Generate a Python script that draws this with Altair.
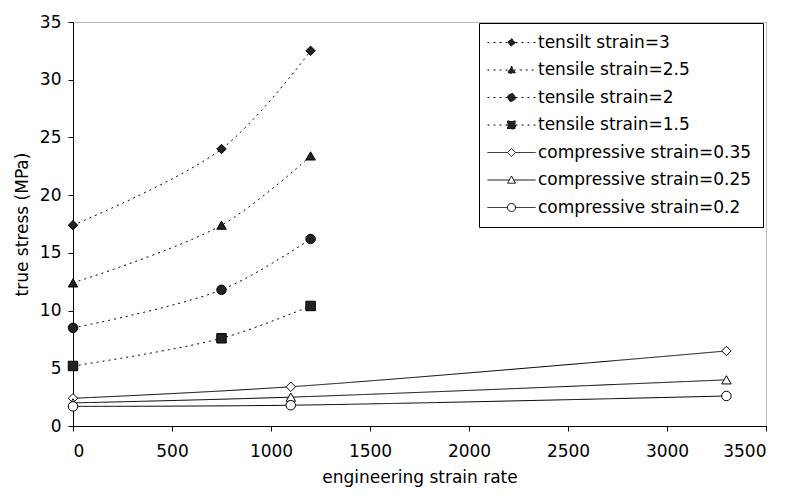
import altair as alt
import pandas as pd

FONT = "DejaVu Sans"

series_names = [
    "tensilt strain=3",
    "tensile strain=2.5",
    "tensile strain=2",
    "tensile strain=1.5",
    "compressive strain=0.35",
    "compressive strain=0.25",
    "compressive strain=0.2",
]
tensile_rate = [0, 750, 1200]
compressive_rate = [0, 1100, 3300]
tensile_3 = [17.4, 24.0, 32.5]
tensile_25 = [12.4, 17.4, 23.4]
tensile_2 = [8.5, 11.8, 16.2]
tensile_15 = [5.2, 7.6, 10.4]
compressive_035 = [2.4, 3.4, 6.5]
compressive_025 = [2.0, 2.5, 4.0]
compressive_02 = [1.7, 1.8, 2.6]

x_ticks = [0, 500, 1000, 1500, 2000, 2500, 3000, 3500]
y_ticks = [0, 5, 10, 15, 20, 25, 30, 35]

series_x = [tensile_rate] * 4 + [compressive_rate] * 3
series_y = [tensile_3, tensile_25, tensile_2, tensile_15,
            compressive_035, compressive_025, compressive_02]

rows = []
for name, xs, ys in zip(series_names, series_x, series_y):
    for xv, yv in zip(xs, ys):
        rows.append({"series": name, "rate": xv, "stress": yv})
df = pd.DataFrame(rows)

plot_shapes = ["diamond", "triangle-up", "circle", "square",
               "diamond", "triangle-up", "circle"]
diamond_l = "M-6,0H-1M1,0H6M0,-1L1,0L0,1L-1,0Z"
triangle_l = "M-6,0H-0.55M0.55,0H6M0,-1L1,0.8L-1,0.8Z"
circle_l = "M-6,0H-1M1,0H6M1,0A1,1 0 1,1 -1,0A1,1 0 1,1 1,0Z"
square_l = "M-6,0H-1M1,0H6M-1,-1H1V1H-1Z"
legend_shapes = [diamond_l, triangle_l, circle_l, square_l,
                 diamond_l, triangle_l, circle_l]
fill_range = ["#222222"] * 4 + ["#ffffff"] * 3
stroke_range = ["#000000"] * 7
dash_range = [[2, 4]] * 4 + [[1, 0]] * 3

x_enc = alt.X("rate:Q", scale=alt.Scale(domain=[0, 3500], nice=False),
              axis=alt.Axis(values=x_ticks, format="d", title="engineering strain rate",
                            labelPadding=12, titlePadding=10))
y_enc = alt.Y("stress:Q", scale=alt.Scale(domain=[0, 35], nice=False),
              axis=alt.Axis(values=y_ticks, format="d", title="true stress (MPa)",
                            labelPadding=7, titlePadding=8))

lines = alt.Chart(df).mark_line(
    interpolate="catmull-rom", color="black", strokeWidth=1
).encode(
    x=x_enc, y=y_enc, detail="series:N",
    strokeDash=alt.StrokeDash("series:N",
                              scale=alt.Scale(domain=series_names, range=dash_range),
                              legend=None),
)

points = alt.Chart(df).mark_point(
    filled=True, stroke="black", strokeWidth=1, size=90, opacity=1, fillOpacity=1
).encode(
    x=x_enc, y=y_enc,
    shape=alt.Shape("series:N", scale=alt.Scale(domain=series_names, range=plot_shapes),
                    legend=None),
    fill=alt.Fill("series:N", scale=alt.Scale(domain=series_names, range=fill_range),
                  legend=None),
)

legend_cfg = alt.Legend(
    title=None, orient="none", legendX=406, legendY=1,
    strokeColor="black", fillColor="white", padding=11,
    labelFont=FONT, labelFontSize=17, labelColor="black", labelLimit=400,
    symbolSize=64, symbolStrokeWidth=1,
    symbolOffset=13, labelOffset=18, rowPadding=9.5,
)

legend_layer = alt.Chart(df).transform_filter(
    "datum.rate < -100000"
).mark_point(
    filled=True, strokeWidth=1, size=64, opacity=1, fillOpacity=1
).encode(
    x=x_enc, y=y_enc,
    shape=alt.Shape("series:N", scale=alt.Scale(domain=series_names, range=legend_shapes),
                    legend=legend_cfg),
    fill=alt.Fill("series:N", scale=alt.Scale(domain=series_names, range=fill_range),
                  legend=legend_cfg),
    stroke=alt.Stroke("series:N", scale=alt.Scale(domain=series_names, range=stroke_range),
                      legend=legend_cfg),
    strokeDash=alt.StrokeDash("series:N",
                              scale=alt.Scale(domain=series_names, range=dash_range),
                              legend=legend_cfg),
)

chart = alt.layer(lines, points, legend_layer).resolve_scale(
    shape="independent", fill="independent", strokeDash="independent",
    stroke="independent",
).properties(
    width=693, height=404,
    autosize=alt.AutoSizeParams(type="none"),
    padding={"left": 65, "top": 14, "right": 12, "bottom": 66},
).configure_view(
    stroke="#777777", strokeDash=[1, 1], strokeWidth=1
).configure_axis(
    domainColor="black", tickColor="black", labelColor="black", titleColor="black",
    labelFont=FONT, titleFont=FONT, labelFontSize=17, titleFontSize=17,
    titleFontWeight="normal", grid=False, tickSize=5, domainWidth=1, tickWidth=1,
)

chart.save("out.html", embed_options={"renderer": "svg", "actions": False})
